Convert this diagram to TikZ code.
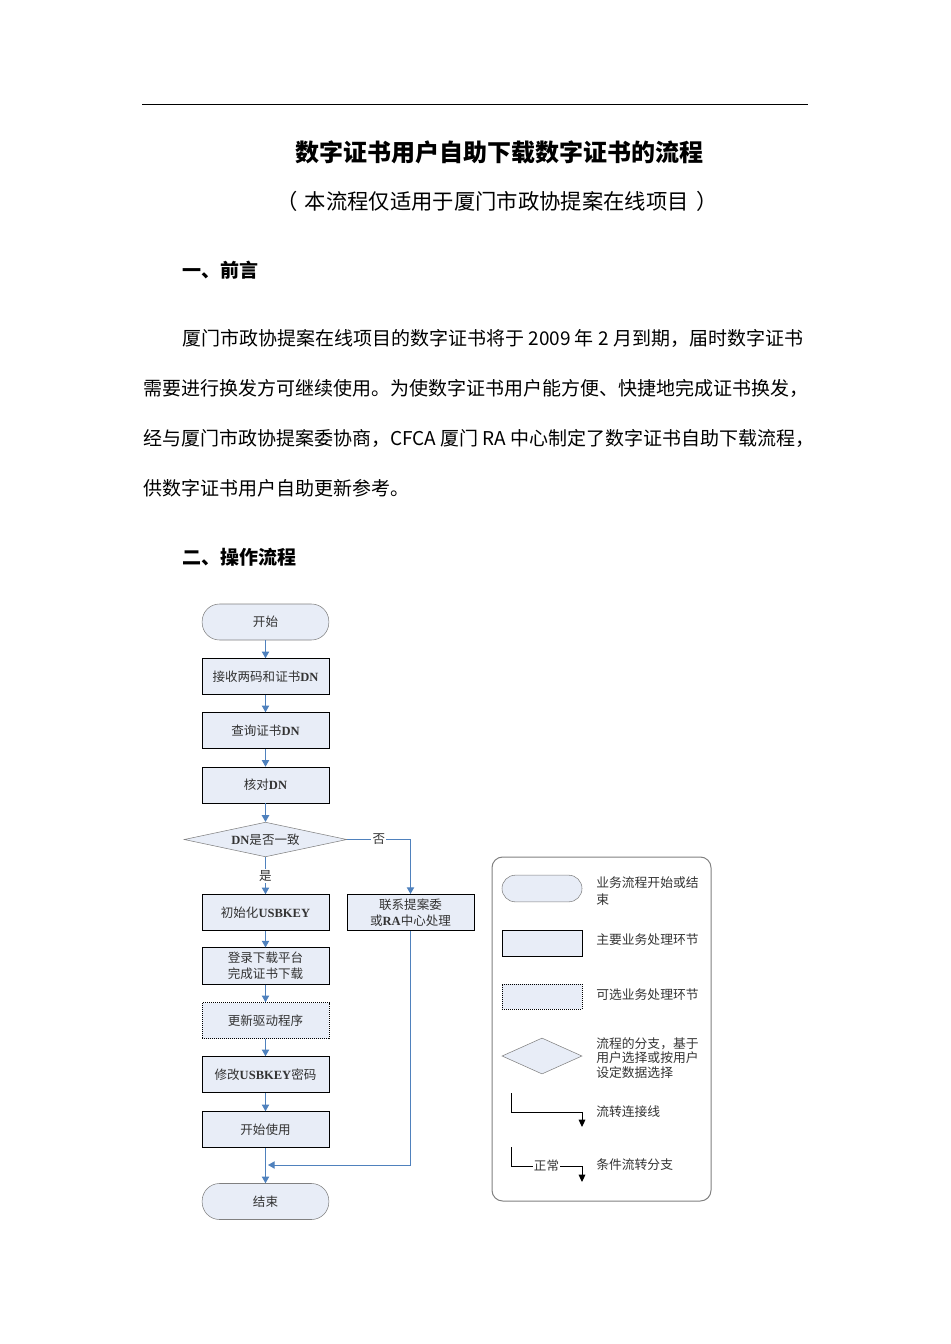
\documentclass[tikz,border=0pt]{standalone}
\usepackage{fontspec}
\setmainfont{Noto Sans CJK SC}
\newfontfamily\serif{Liberation Serif}
\usetikzlibrary{arrows.meta,shapes.geometric}
\definecolor{boxfill}{RGB}{232,237,247}
\definecolor{flowblue}{RGB}{79,129,189}
\newcommand\en[1]{{\serif\bfseries #1}}
\begin{document}
\begin{tikzpicture}[
        x=0.75pt, y=-0.75pt,
        body/.style={anchor=west, inner sep=0pt, font=\fontsize{14.25pt}{17pt}\selectfont},
        head/.style={body, font=\fontsize{14.25pt}{17pt}\selectfont\bfseries},
        term/.style={draw=gray, fill=boxfill, rounded corners=13pt, minimum width=95pt, minimum height=27pt,
            font=\fontsize{9.4pt}{12pt}\selectfont, text=black!80},
        proc/.style={draw=black, fill=boxfill, minimum width=95pt, minimum height=27pt, align=center,
            font=\fontsize{9.4pt}{12pt}\selectfont, text=black!80},
        optproc/.style={proc, dash pattern=on 0.75pt off 0.75pt},
        decide/.style={diamond, draw=gray, fill=boxfill, aspect=4.6, inner sep=0pt,
            minimum width=122pt, minimum height=26pt, font=\fontsize{9.4pt}{12pt}\selectfont, text=black!80},
        flow/.style={draw=flowblue, line width=0.75pt, -{Triangle[length=5pt,width=5.5pt]}},
        lbl/.style={fill=white, inner sep=1pt, font=\fontsize{9.4pt}{12pt}\selectfont, text=black!80},
        lflow/.style={draw=black, line width=0.75pt, -{Triangle[length=5.5pt,width=5pt]}},
        ltext/.style={anchor=west, align=left, inner sep=0pt, font=\fontsize{9.6pt}{12.75pt}\selectfont, text=black!80}
        ]
    \useasboundingbox (0,0) rectangle (950,1344);
    % page head
    \draw[line width=0.75pt] (142,105) -- (808,105);
    \node[font=\fontsize{18pt}{22pt}\selectfont\bfseries] (title) at (499,152) {数字证书用户自助下载数字证书的流程};
    \node[font=\fontsize{16pt}{20pt}\selectfont] (subtitle) at (497,201) {（\,\,本流程仅适用于厦门市政协提案在线项目\,\,）};
    \node[head] (h1) at (182,270) {一、前言};
    \node[body] (p1) at (182,338) {厦门市政协提案在线项目的数字证书将于 2009 年 2 月到期，届时数字证书};
    \node[body] (p2) at (143,388) {需要进行换发方可继续使用。为使数字证书用户能方便、快捷地完成证书换发，};
    \node[body] (p3) at (143,438) {经与厦门市政协提案委协商，CFCA 厦门 RA 中心制定了数字证书自助下载流程，};
    \node[body] (p4) at (143,488) {供数字证书用户自助更新参考。};
    \node[head] (h2) at (182,557) {二、操作流程};
    % flow chart
    \node[term] (start) at (265.5,622) {开始};
    \node[proc] (recv) at (265.5,676.5) {接收两码和证书\en{DN}};
    \node[proc] (query) at (265.5,730.5) {查询证书\en{DN}};
    \node[proc] (check) at (265.5,785) {核对\en{DN}};
    \node[decide] (dec) at (265.5,839.5) {\en{DN}是否一致};
    \node[proc] (init) at (265.5,912.5) {初始化\en{USBKEY}};
    \node[proc] (contact) at (410.5,912.5) {联系提案委\\或\en{RA}中心处理};
    \node[proc] (login) at (265.5,966) {登录下载平台\\完成证书下载};
    \node[optproc] (driver) at (265.5,1020.5) {更新驱动程序};
    \node[proc] (passwd) at (265.5,1074.5) {修改\en{USBKEY}密码};
    \node[proc] (use) at (265.5,1129.5) {开始使用};
    \node[term] (stop) at (265.5,1201.5) {结束};
    \coordinate (merge) at (268,1165);
    \draw[flow] (start) -- (recv);
    \draw[flow] (recv) -- (query);
    \draw[flow] (query) -- (check);
    \draw[flow] (check) -- (dec);
    \draw[flow] (dec) -- node[lbl] {是} (init);
    \draw[flow] (dec.east) -- node[lbl] {否} (dec.east -| contact) -- (contact.north);
    \draw[flow] (init) -- (login);
    \draw[flow] (login) -- (driver);
    \draw[flow] (driver) -- (passwd);
    \draw[flow] (passwd) -- (use);
    \draw[flow] (use) -- (stop);
    \draw[flow] (contact.south) |- (merge);
    % legend
    \draw[draw=gray, line width=0.75pt, rounded corners=8pt] (492,857) rectangle (711,1201);
    \node[term, minimum width=60pt, minimum height=20pt, rounded corners=10pt] (lterm) at (542,888.5) {};
    \node[proc, minimum width=60pt, minimum height=19.5pt] (lproc) at (542,943) {};
    \node[optproc, minimum width=60pt, minimum height=19pt] (lopt) at (542,996.5) {};
    \node[decide, minimum width=60pt, minimum height=27pt, aspect=2.2] (ldec) at (542,1056) {};
    \coordinate (la) at (511,1093);
    \coordinate (lb) at (582,1127);
    \coordinate (lc) at (511,1147);
    \coordinate (ld) at (582,1182);
    \draw[lflow] (la) -- ++(0,19) -| (lb);
    \draw[lflow] (lc) -- ++(0,19) -- node[lbl] {正常} ++(71,0) -- (ld);
    \node[ltext] (t1) at (596,891.5) {业务流程开始或结\\束};
    \node[ltext] (t2) at (596,940) {主要业务处理环节};
    \node[ltext] (t3) at (596,995) {可选业务处理环节};
    \node[ltext, font=\fontsize{9.6pt}{11pt}\selectfont] (t4) at (596,1058) {流程的分支，基于\\用户选择或按用户\\设定数据选择};
    \node[ltext] (t5) at (596,1112) {流转连接线};
    \node[ltext] (t6) at (596,1165) {条件流转分支};
\end{tikzpicture}
\end{document}
